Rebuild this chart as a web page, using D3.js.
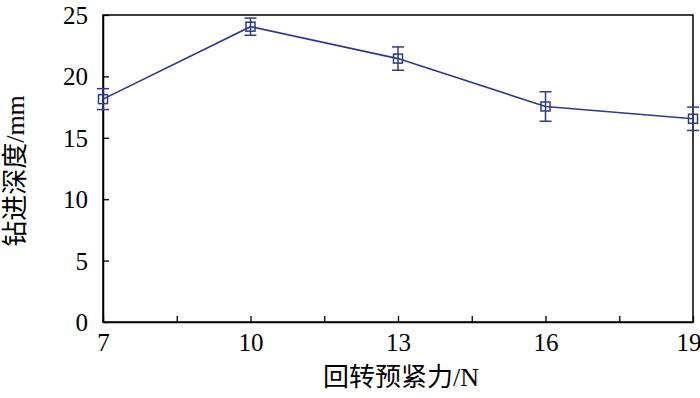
<!DOCTYPE html>
<html><head><meta charset="utf-8">
<script src="https://cdn.jsdelivr.net/npm/d3@7"></script>
<style>body{margin:0;background:#fff}svg{display:block}</style>
</head><body>
<script>
const forces = [7, 10, 13, 16, 19];
const depths = [18.15, 24.05, 21.45, 17.55, 16.55];
const errors = [0.85, 0.7, 0.95, 1.2, 0.95];
const xTickValues = [7, 8.5, 10, 11.5, 13, 14.5, 16, 17.5, 19];
const xTickLabels = [7, 10, 13, 16, 19];
const yTickValues = [0, 5, 10, 15, 20, 25];
const xTitle = "回转预紧力/N";
const yTitle = "钻进深度/mm";

const W = 700, H = 398;
const m = {left: 103, right: 7, top: 15, bottom: 76};
const color = "#2e3a8c";
const font = "'Liberation Serif','Noto Sans CJK SC',serif";

const svg = d3.select("body").append("svg").attr("width", W).attr("height", H);
const x = d3.scaleLinear().domain([7, 19]).range([m.left, W - m.right]);
const y = d3.scaleLinear().domain([0, 25]).range([H - m.bottom, m.top]);

// frame
svg.append("rect").attr("x", m.left).attr("y", m.top)
  .attr("width", W - m.left - m.right).attr("height", H - m.top - m.bottom)
  .attr("fill", "none").attr("stroke", "#000").attr("stroke-width", 1.5);

// x axis
const xAxis = svg.append("g").attr("transform", `translate(0,${H - m.bottom})`)
  .call(d3.axisBottom(x).tickValues(xTickValues).tickSizeInner(-6).tickSizeOuter(0)
    .tickFormat(d => xTickLabels.includes(d) ? d : ""));
xAxis.select(".domain").attr("stroke", "#000").attr("stroke-width", 1.5);
xAxis.selectAll(".tick line").attr("stroke", "#000").attr("stroke-width", 1.3);
xAxis.selectAll(".tick text").attr("y", 20).attr("dy", "0.35em")
  .attr("font-family", font).attr("font-size", 25).attr("fill", "#000")
  .filter(d => d === 19).attr("text-anchor", "end").attr("dx", 8);

// y axis
const yAxis = svg.append("g").attr("transform", `translate(${m.left},0)`)
  .call(d3.axisLeft(y).tickValues(yTickValues).tickSizeInner(-6).tickSizeOuter(0));
yAxis.select(".domain").attr("stroke", "#000").attr("stroke-width", 1.5);
yAxis.selectAll(".tick line").attr("stroke", "#000").attr("stroke-width", 1.3);
yAxis.selectAll(".tick text").attr("x", -15).attr("dy", "0.34em")
  .attr("font-family", font).attr("font-size", 25).attr("fill", "#000");

// line
const data = forces.map((f, i) => ({f, v: depths[i], e: errors[i]}));
svg.append("path").datum(data)
  .attr("d", d3.line().x(d => x(d.f)).y(d => y(d.v)))
  .attr("fill", "none").attr("stroke", color).attr("stroke-width", 1.6);

// error bars
const eb = svg.append("g").attr("stroke", color).attr("stroke-width", 1.5).attr("fill", "none");
data.forEach(d => {
  const cx = x(d.f);
  eb.append("line").attr("x1", cx).attr("x2", cx).attr("y1", y(d.v + d.e)).attr("y2", y(d.v - d.e));
  eb.append("line").attr("x1", cx - 6).attr("x2", cx + 6).attr("y1", y(d.v + d.e)).attr("y2", y(d.v + d.e));
  eb.append("line").attr("x1", cx - 6).attr("x2", cx + 6).attr("y1", y(d.v - d.e)).attr("y2", y(d.v - d.e));
  eb.append("rect").attr("x", cx - 4.5).attr("y", y(d.v) - 4.5).attr("width", 9).attr("height", 9);
});

// titles
svg.append("text").attr("x", 401).attr("y", 377).attr("dominant-baseline", "central")
  .attr("text-anchor", "middle").attr("font-family", font).attr("font-size", 26)
  .attr("fill", "#000").text(xTitle);
svg.append("text").attr("transform", `translate(15,171) rotate(-90)`)
  .attr("dominant-baseline", "central")
  .attr("text-anchor", "middle").attr("font-family", font).attr("font-size", 26)
  .attr("fill", "#000").text(yTitle);
</script>
</body></html>
